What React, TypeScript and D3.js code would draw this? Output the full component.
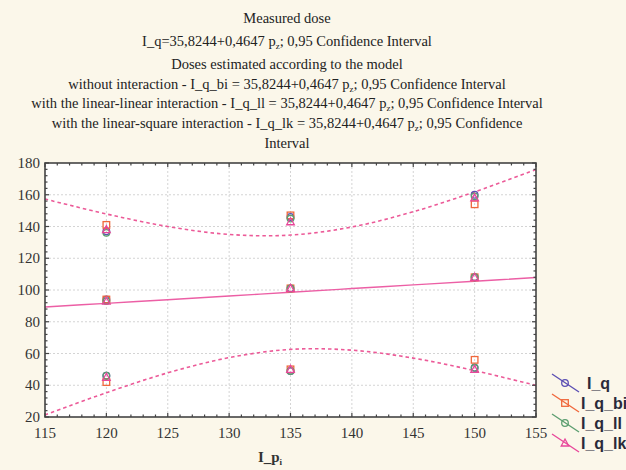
import React, { useEffect, useRef } from 'react';
import * as d3 from 'd3';

// measured points, three groups at each p level
const pLevels = [120, 135, 150];
const iq = [[137, 94, 46], [146, 101, 49], [160, 108, 51]];
const iqBi = [[141, 94, 42], [147, 101, 50], [154, 108, 56]];
const iqLl = [[136, 93, 46], [145, 101, 49], [159, 108, 51]];
const iqLk = [[138, 93, 45], [143, 101, 50], [158, 108, 50]];

// fitted line and 0,95 band
const bandX = [115, 120, 125, 130, 135, 140, 145, 150, 155];
const fitY = [89.3, 91.6, 93.9, 96.2, 98.6, 100.9, 103.2, 105.5, 107.9];
const upperY = [157.3, 147.9, 140.0, 135.0, 134.6, 139.7, 149.3, 161.8, 175.9];
const lowerY = [21.3, 35.3, 47.8, 57.4, 62.6, 62.1, 57.1, 49.2, 39.9];

const xTicks = [115, 120, 125, 130, 135, 140, 145, 150, 155];
const yTicks = [20, 40, 60, 80, 100, 120, 140, 160, 180];

const titleLines = [
  'Measured dose',
  'I_q=35,8244+0,4647 p|z|; 0,95 Confidence Interval',
  'Doses estimated according to the model',
  'without interaction - I_q_bi = 35,8244+0,4647 p|z|; 0,95 Confidence Interval',
  'with the linear-linear interaction - I_q_ll = 35,8244+0,4647 p|z|; 0,95 Confidence Interval',
  'with the linear-square interaction - I_q_lk = 35,8244+0,4647 p|z|; 0,95 Confidence',
  'Interval',
];
const titleY = [23, 46, 69, 89, 108, 128, 148];

const series = [
  { name: 'I_q', data: iq, color: '#5b4fb3', shape: 'circle' },
  { name: 'I_q_bi', data: iqBi, color: '#f0683c', shape: 'square' },
  { name: 'I_q_ll', data: iqLl, color: '#5c9e70', shape: 'circle' },
  { name: 'I_q_lk', data: iqLk, color: '#e8479a', shape: 'triangle' },
];

const SERIF = 'Liberation Serif';
const SANS = 'Liberation Sans';

const App = () => {
  const ref = useRef<SVGSVGElement>(null);

  useEffect(() => {
    const svg = d3.select(ref.current);
    svg.selectAll('*').remove();

    const left = 45, right = 536, top = 163, bottom = 417;
    const x = d3.scaleLinear().domain([115, 155]).range([left, right]);
    const y = d3.scaleLinear().domain([20, 180]).range([bottom, top]);

    svg.append('rect').attr('width', 626).attr('height', 470).attr('fill', '#fbf7ea');
    svg.append('rect').attr('x', left).attr('y', top)
      .attr('width', right - left).attr('height', bottom - top).attr('fill', '#fff');

    // title
    const title = svg.append('g').attr('font-family', SERIF)
      .attr('font-size', 14.5).attr('fill', '#222').attr('text-anchor', 'middle');
    titleLines.forEach((line, i) => {
      const t = title.append('text').attr('x', 287).attr('y', titleY[i]);
      line.split('|').forEach((part, j) => {
        if (j % 2 === 1) {
          t.append('tspan').attr('font-size', 9).attr('dy', 3).text(part);
        } else {
          t.append('tspan').attr('dy', j > 0 ? -3 : 0).text(part);
        }
      });
    });

    // grid
    const grid = svg.append('g').attr('stroke', '#d4d4d4').attr('stroke-width', 1)
      .attr('stroke-dasharray', '2,2');
    xTicks.slice(1, -1).forEach(v => {
      grid.append('line').attr('x1', x(v)).attr('x2', x(v)).attr('y1', top).attr('y2', bottom);
    });
    yTicks.slice(1, -1).forEach(v => {
      grid.append('line').attr('x1', left).attr('x2', right).attr('y1', y(v)).attr('y2', y(v));
    });

    // bands and fit
    const line = d3.line<number>().x((d, i) => x(bandX[i])).y(d => y(d)).curve(d3.curveCatmullRom);
    const plot = svg.append('g');
    [upperY, lowerY].forEach(arr => {
      plot.append('path').attr('d', line(arr)).attr('fill', 'none')
        .attr('stroke', '#ec5a98').attr('stroke-width', 1.6).attr('stroke-dasharray', '3.5,3');
    });
    plot.append('path').attr('d', line(fitY)).attr('fill', 'none')
      .attr('stroke', '#ec5fa5').attr('stroke-width', 1.4);

    // markers
    const drawMarker = (g: any, shape: string, cx: number, cy: number, color: string) => {
      if (shape === 'circle') {
        g.append('circle').attr('cx', cx).attr('cy', cy).attr('r', 3.3)
          .attr('fill', 'none').attr('stroke', color).attr('stroke-width', 1.3);
      } else if (shape === 'square') {
        g.append('rect').attr('x', cx - 3.3).attr('y', cy - 3.3).attr('width', 6.6).attr('height', 6.6)
          .attr('fill', 'none').attr('stroke', color).attr('stroke-width', 1.3);
      } else {
        g.append('path').attr('d', `M${cx},${cy - 4}L${cx + 3.8},${cy + 3}L${cx - 3.8},${cy + 3}Z`)
          .attr('fill', 'none').attr('stroke', color).attr('stroke-width', 1.3);
      }
    };
    series.forEach(s => {
      s.data.forEach((vals, i) => {
        vals.forEach(v => drawMarker(plot, s.shape, x(pLevels[i]), y(v), s.color));
      });
    });

    // frame + ticks
    const axes = svg.append('g').attr('stroke', '#444');
    axes.append('rect').attr('x', left).attr('y', top).attr('width', right - left)
      .attr('height', bottom - top).attr('fill', 'none').attr('stroke-width', 1.6);
    d3.range(115, 155.01, 1).forEach(v => {
      const len = v % 5 === 0 ? 4 : 2.5;
      axes.append('line').attr('x1', x(v)).attr('x2', x(v)).attr('y1', bottom).attr('y2', bottom - len).attr('stroke-width', 1.2);
      axes.append('line').attr('x1', x(v)).attr('x2', x(v)).attr('y1', top).attr('y2', top + len).attr('stroke-width', 1.2);
    });
    d3.range(20, 180.01, 4).forEach(v => {
      const len = v % 20 === 0 ? 4 : 2.5;
      axes.append('line').attr('x1', left).attr('x2', left + len).attr('y1', y(v)).attr('y2', y(v)).attr('stroke-width', 1.2);
      axes.append('line').attr('x1', right).attr('x2', right - len).attr('y1', y(v)).attr('y2', y(v)).attr('stroke-width', 1.2);
    });

    const labels = svg.append('g').attr('font-family', SERIF)
      .attr('font-size', 15).attr('fill', '#333');
    xTicks.forEach(v => {
      labels.append('text').attr('x', x(v)).attr('y', 438).attr('text-anchor', 'middle').text(v);
    });
    yTicks.forEach(v => {
      labels.append('text').attr('x', 40).attr('y', y(v) + 5).attr('text-anchor', 'end').text(v);
    });

    // x axis title
    const xt = svg.append('text').attr('x', 270).attr('y', 462).attr('text-anchor', 'middle')
      .attr('font-family', SERIF).attr('font-size', 15)
      .attr('font-weight', 'bold').attr('fill', '#333');
    xt.append('tspan').text('I_p');
    xt.append('tspan').attr('font-size', 9).attr('dy', 3).text('i');

    // legend
    const legend = svg.append('g');
    series.forEach((s, i) => {
      const ly = 383 + i * 20;
      legend.append('line').attr('x1', 552).attr('y1', ly - 9).attr('x2', 579).attr('y2', ly + 9)
        .attr('stroke', s.color).attr('stroke-width', 1.3);
      drawMarker(legend, s.shape, 565, ly, s.color);
      legend.append('text').attr('x', 581 + (i === 0 ? 6 : 0)).attr('y', ly + 6)
        .attr('font-family', SANS).attr('font-weight', 'bold')
        .attr('font-size', 16).attr('fill', '#2a2a3a').text(s.name);
    });
  }, []);

  return (
    <svg ref={ref} width={626} height={470}
      style={{ position: 'absolute', left: 0, top: 0, display: 'block' }} />
  );
};

export default App;
